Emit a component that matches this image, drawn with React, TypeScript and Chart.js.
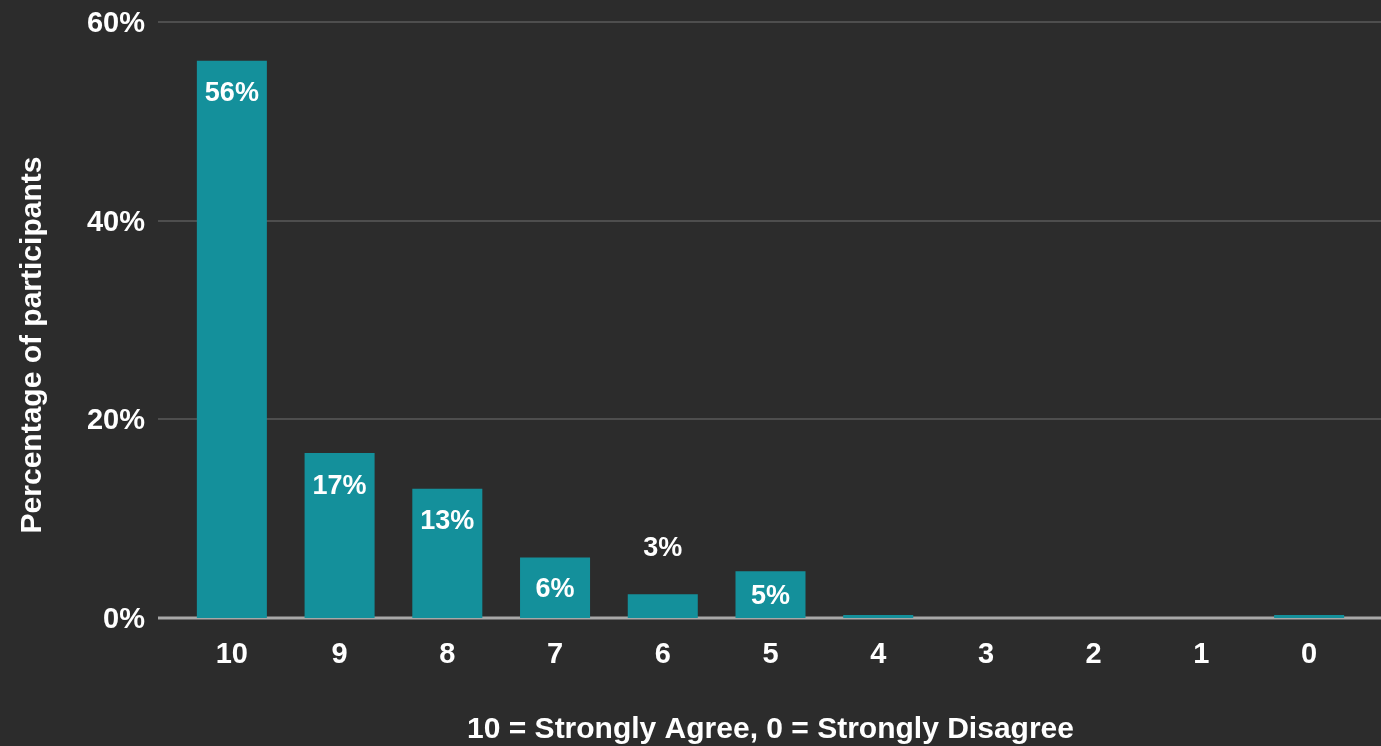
import React, { useEffect, useRef } from "react";
import { Chart, registerables } from "chart.js";

Chart.register(...registerables);

const categories = ["10", "9", "8", "7", "6", "5", "4", "3", "2", "1", "0"];
const values = [56.1, 16.6, 13.0, 6.1, 2.4, 4.7, 0.3, 0, 0, 0, 0.3];
const valueLabels = ["56%", "17%", "13%", "6%", "3%", "5%", "", "", "", "", ""];
const yTicks = [0, 20, 40, 60];
const xTitle = "10 = Strongly Agree, 0 = Strongly Disagree";
const yTitle = "Percentage of participants";

const FONT = "'Liberation Sans', Arial, sans-serif";
const BG = "#2c2c2c";
const BAR = "#14909b";

export default function App() {
  const ref = useRef<HTMLCanvasElement | null>(null);

  useEffect(() => {
    document.body.style.margin = "0";
    document.body.style.background = BG;
    const canvas = ref.current!;

    const bgPlugin = {
      id: "bgAndGrid",
      beforeDraw(chart: any) {
        const ctx = chart.ctx;
        ctx.save();
        ctx.fillStyle = BG;
        ctx.fillRect(0, 0, chart.width, chart.height);
        ctx.restore();
      },
      beforeDatasetsDraw(chart: any) {
        const ctx = chart.ctx;
        const y = chart.scales.y;
        ctx.save();
        yTicks.forEach((t) => {
          const py = Math.round(y.getPixelForValue(t));
          if (t === 0) {
            ctx.strokeStyle = "#a8a8a8";
            ctx.lineWidth = 3;
          } else {
            ctx.strokeStyle = "#5a5a5a";
            ctx.lineWidth = 1.5;
          }
          ctx.beginPath();
          ctx.moveTo(158, py);
          ctx.lineTo(chart.width, py);
          ctx.stroke();
        });
        ctx.restore();
      },
      afterDatasetsDraw(chart: any) {
        const ctx = chart.ctx;
        const meta = chart.getDatasetMeta(0);
        ctx.save();
        ctx.fillStyle = "#ffffff";
        ctx.font = `bold 27px ${FONT}`;
        ctx.textAlign = "center";
        ctx.textBaseline = "middle";
        meta.data.forEach((bar: any, i: number) => {
          const txt = valueLabels[i];
          if (!txt) return;
          const top = bar.y;
          const bottom = bar.base;
          const h = bottom - top;
          let cy;
          if (h < 30) cy = top - 46;
          else cy = Math.min(top + 33, (top + bottom) / 2 + 2);
          ctx.fillText(txt, bar.x, cy);
        });
        // y title
        ctx.font = `bold 30px ${FONT}`;
        ctx.translate(33, 345);
        ctx.rotate(-Math.PI / 2);
        ctx.fillText(yTitle, 0, 0);
        ctx.restore();
      },
    };

    const chart = new Chart(canvas, {
      type: "bar",
      data: {
        labels: categories,
        datasets: [
          {
            data: values,
            backgroundColor: BAR,
            borderWidth: 0,
            barPercentage: 0.65,
            categoryPercentage: 1,
          },
        ],
      },
      options: {
        animation: false,
        responsive: true,
        maintainAspectRatio: false,
        layout: { padding: { top: 22, right: 18, left: 0, bottom: 0 } },
        plugins: {
          legend: { display: false },
          tooltip: { enabled: false },
        },
        scales: {
          x: {
            offset: true,
            grid: { display: false, drawTicks: false },
            border: { display: false },
            ticks: {
              color: "#ffffff",
              font: { family: FONT, size: 29, weight: "bold" },
              padding: 20,
              maxRotation: 0,
            },
            title: {
              display: true,
              text: xTitle,
              color: "#ffffff",
              font: { family: FONT, size: 30, weight: "bold" },
              padding: { top: 0, bottom: -2 },
            },
            afterFit(scale: any) {
              scale.height = 128;
              scale.paddingLeft = 0;
              scale.paddingRight = 0;
            },
          },
          y: {
            min: 0,
            max: 60,
            grid: { display: false, drawTicks: false },
            border: { display: false },
            ticks: {
              stepSize: 20,
              color: "#ffffff",
              font: { family: FONT, size: 29, weight: "bold" },
              padding: 33,
              labelOffset: 2,
              callback: (v: any) => v + "%",
            },
            afterFit(scale: any) {
              scale.width = 178;
              scale.paddingTop = 0;
              scale.paddingBottom = 0;
            },
          },
        },
      },
      plugins: [bgPlugin],
    });
    return () => chart.destroy();
  }, []);

  return (
    <div style={{ position: "absolute", left: 0, top: 0, width: 1381, height: 746, background: BG }}>
      <canvas ref={ref} />
    </div>
  );
}
